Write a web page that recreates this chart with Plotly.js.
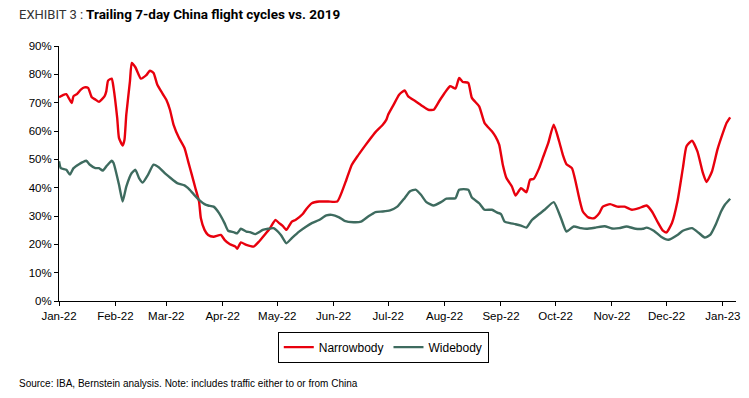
<!DOCTYPE html>
<html>
<head>
<meta charset="utf-8">
<script src="https://cdn.plot.ly/plotly-3.0.1.min.js"></script>
<style>
  html, body { margin: 0; padding: 0; background: #fff; }
  #chart { width: 749px; height: 398px; }
</style>
</head>
<body>
<div id="chart"></div>
<script>
// Narrowbody: trailing 7-day flight cycles vs. 2019 (%)
const nbDates = ['2022-01-01','2022-01-03','2022-01-05','2022-01-08','2022-01-09','2022-01-11','2022-01-13','2022-01-15','2022-01-17','2022-01-19','2022-01-21','2022-01-23','2022-01-26','2022-01-27','2022-01-28','2022-01-30','2022-01-31',
'2022-02-02','2022-02-03','2022-02-05','2022-02-06','2022-02-07','2022-02-09','2022-02-10','2022-02-12','2022-02-15','2022-02-18','2022-02-20','2022-02-22','2022-02-24','2022-02-27',
'2022-03-01','2022-03-03','2022-03-05','2022-03-08','2022-03-11','2022-03-13','2022-03-15','2022-03-17','2022-03-19','2022-03-20','2022-03-22','2022-03-24','2022-03-27','2022-03-31',
'2022-04-02','2022-04-05','2022-04-08','2022-04-09','2022-04-11','2022-04-14','2022-04-18','2022-04-21','2022-04-24','2022-04-27','2022-04-30',
'2022-05-02','2022-05-04','2022-05-06','2022-05-09','2022-05-11','2022-05-15','2022-05-17','2022-05-20','2022-05-24','2022-05-29',
'2022-06-03','2022-06-06','2022-06-08','2022-06-11','2022-06-14','2022-06-17','2022-06-20','2022-06-24','2022-06-28','2022-06-30',
'2022-07-01','2022-07-04','2022-07-07','2022-07-10','2022-07-12','2022-07-16','2022-07-20','2022-07-23','2022-07-26','2022-07-29',
'2022-08-01','2022-08-04','2022-08-07','2022-08-09','2022-08-11','2022-08-14','2022-08-16','2022-08-20','2022-08-23','2022-08-27','2022-08-29','2022-08-31',
'2022-09-02','2022-09-04','2022-09-07','2022-09-09','2022-09-12','2022-09-15','2022-09-17','2022-09-19','2022-09-22','2022-09-24','2022-09-27','2022-09-30',
'2022-10-03','2022-10-05','2022-10-07','2022-10-10','2022-10-12','2022-10-14','2022-10-16','2022-10-19','2022-10-22','2022-10-25','2022-10-27','2022-10-31',
'2022-11-04','2022-11-08','2022-11-12','2022-11-16','2022-11-20','2022-11-23','2022-11-26','2022-11-29',
'2022-12-01','2022-12-04','2022-12-07','2022-12-10','2022-12-12','2022-12-15','2022-12-18','2022-12-21','2022-12-23','2022-12-26','2022-12-29',
'2023-01-01','2023-01-03','2023-01-05'];
const nbValues = [71.9,72.6,73.0,69.9,72.3,73.1,74.6,75.4,75.2,71.9,71.1,70.3,72.2,74.0,77.8,78.5,75.2,
64.6,57.5,54.9,56.9,65.8,77.5,84.0,82.5,78.5,79.7,81.3,80.5,76.4,73.1,
71.0,67.5,62.2,57.5,54.0,49.3,44.6,39.8,35.1,29.2,25.1,23.3,22.7,23.3,
21.6,20.0,19.2,18.4,20.7,19.8,19.2,21.0,23.3,25.7,28.6,
27.5,26.5,25.1,28.0,28.6,30.7,32.5,34.5,35.1,35.1,
35.1,39.3,42.8,48.1,51.0,53.7,56.3,59.6,62.2,64.0,
65.8,69.3,72.8,74.3,72.2,70.5,68.7,67.5,67.5,70.5,
73.4,75.8,75.0,78.7,77.3,77.0,71.7,68.7,62.8,59.9,58.0,55.2,
48.1,43.4,40.4,37.2,39.8,38.4,42.8,43.1,46.9,50.5,55.8,62.2,
56.3,51.6,48.3,46.9,42.2,36.3,31.6,29.5,29.2,31.0,33.3,34.2,
33.3,33.3,32.2,32.8,33.7,31.6,28.0,24.8,
24.2,27.5,35.1,46.9,54.6,56.6,52.8,45.2,42.0,45.7,53.4,
59.3,62.8,64.8];

// Widebody: trailing 7-day flight cycles vs. 2019 (%)
const wbDates = ['2022-01-01','2022-01-02','2022-01-05','2022-01-07','2022-01-09','2022-01-12','2022-01-14','2022-01-16','2022-01-18','2022-01-21','2022-01-23','2022-01-25','2022-01-27','2022-01-30','2022-01-31',
'2022-02-03','2022-02-05','2022-02-07','2022-02-10','2022-02-12','2022-02-14','2022-02-16','2022-02-19','2022-02-22','2022-02-25','2022-02-28',
'2022-03-03','2022-03-07','2022-03-11','2022-03-13','2022-03-16','2022-03-19','2022-03-22','2022-03-24','2022-03-27','2022-03-30',
'2022-04-02','2022-04-04','2022-04-07','2022-04-09','2022-04-11','2022-04-14','2022-04-16','2022-04-19','2022-04-21','2022-04-23','2022-04-26','2022-04-29',
'2022-05-03','2022-05-06','2022-05-09','2022-05-13','2022-05-17','2022-05-20','2022-05-24','2022-05-28','2022-05-31',
'2022-06-04','2022-06-07','2022-06-12','2022-06-16','2022-06-20','2022-06-24','2022-06-28',
'2022-07-02','2022-07-06','2022-07-10','2022-07-13','2022-07-16','2022-07-19','2022-07-22','2022-07-26','2022-07-30',
'2022-08-02','2022-08-07','2022-08-09','2022-08-14','2022-08-16','2022-08-20','2022-08-23','2022-08-27','2022-08-30',
'2022-09-01','2022-09-03','2022-09-06','2022-09-09','2022-09-12','2022-09-15','2022-09-18','2022-09-22','2022-09-25','2022-09-30',
'2022-10-04','2022-10-07','2022-10-11','2022-10-15','2022-10-18','2022-10-23','2022-10-28',
'2022-11-01','2022-11-05','2022-11-09','2022-11-14','2022-11-18','2022-11-20','2022-11-24','2022-11-28',
'2022-12-02','2022-12-07','2022-12-10','2022-12-15','2022-12-19','2022-12-22','2022-12-25','2022-12-28','2022-12-31',
'2023-01-02','2023-01-05'];
const wbValues = [49.3,46.9,46.3,44.6,46.9,48.3,49.0,49.5,48.1,46.9,46.9,46.0,47.5,49.5,48.7,
41.0,35.1,40.4,45.2,46.3,43.4,41.8,44.6,48.1,47.1,45.2,
43.6,41.6,40.8,39.8,37.7,35.7,34.2,33.7,33.3,31.0,
27.5,24.8,24.3,23.9,25.5,24.5,24.3,23.6,24.3,25.1,25.5,25.7,
23.3,20.4,22.2,24.5,26.3,27.5,28.6,30.2,30.4,
29.5,28.3,27.8,28.0,29.8,31.4,31.6,
32.0,33.3,36.3,38.7,39.3,37.5,34.9,33.7,34.9,
36.1,36.3,39.3,39.3,36.5,34.5,32.2,32.2,31.2,
30.7,28.0,27.5,27.1,26.6,25.9,28.6,30.7,32.2,34.9,
29.2,24.5,26.3,25.7,25.5,25.9,26.4,
25.6,25.7,26.3,25.5,25.5,25.9,24.8,22.7,
21.6,23.3,24.8,25.7,23.9,22.4,23.3,26.9,31.6,
33.9,36.1];

const seriesNames = ['Narrowbody', 'Widebody'];
const yTickVals = [0,10,20,30,40,50,60,70,80,90];
const yTickText = ['0%','10%','20%','30%','40%','50%','60%','70%','80%','90%'];

const tickFont = { family: 'Liberation Sans, Arial, sans-serif', size: 11.5, color: '#000' };

const traces = [
  { x: nbDates, y: nbValues, name: seriesNames[0], type: 'scatter', mode: 'lines',
    line: { color: '#E8000D', width: 2.4, shape: 'spline', smoothing: 0.5 } },
  { x: wbDates, y: wbValues, name: seriesNames[1], type: 'scatter', mode: 'lines',
    line: { color: '#3E6B5F', width: 2.4, shape: 'spline', smoothing: 0.5 } }
];

const layout = {
  width: 749, height: 398,
  margin: { l: 59, r: 13, t: 46, b: 97 },
  paper_bgcolor: '#fff', plot_bgcolor: '#fff',
  showlegend: true,
  legend: {
    orientation: 'h', x: 0.479, xanchor: 'center', y: -0.12, yanchor: 'top',
    bordercolor: '#000', borderwidth: 1,
    font: { family: 'Liberation Sans, Arial, sans-serif', size: 12, color: '#000' },
    itemwidth: 30, tracegroupgap: 0
  },
  xaxis: {
    type: 'date',
    range: ['2022-01-01', '2023-01-08 05:00'],
    tick0: '2022-01-01', dtick: 'M1', tickformat: '%b-%y',
    showgrid: false, zeroline: false,
    showline: true, linecolor: '#000', linewidth: 1,
    ticks: 'outside', ticklen: 4, tickcolor: '#000',
    tickfont: tickFont, fixedrange: true
  },
  yaxis: {
    range: [0, 90], tickmode: 'array', tickvals: yTickVals, ticktext: yTickText,
    showgrid: false, zeroline: false,
    showline: true, linecolor: '#000', linewidth: 1,
    ticks: 'outside', ticklen: 4, tickcolor: '#000',
    tickfont: tickFont, fixedrange: true
  },
  annotations: [
    { text: 'EXHIBIT 3 :', xref: 'paper', yref: 'paper', x: -0.062, y: 1.125,
      xanchor: 'left', yanchor: 'middle', showarrow: false,
      font: { family: 'Roboto, Liberation Sans, sans-serif', size: 13, color: '#333' } },
    { text: '<b>Trailing 7-day China flight cycles vs. 2019</b>', xref: 'paper', yref: 'paper', x: 0.037, y: 1.125,
      xanchor: 'left', yanchor: 'middle', showarrow: false,
      font: { family: 'Roboto, Liberation Sans, sans-serif', size: 13.5, color: '#000' } },
    { text: 'Source: IBA, Bernstein analysis. Note: includes traffic either to or from China',
      xref: 'paper', yref: 'paper', x: -0.062, y: -0.325,
      xanchor: 'left', yanchor: 'middle', showarrow: false,
      font: { family: 'Liberation Sans, Arial, sans-serif', size: 10, color: '#000' } }
  ]
};

Plotly.newPlot('chart', traces, layout, { displayModeBar: false, staticPlot: true });
</script>
</body>
</html>
